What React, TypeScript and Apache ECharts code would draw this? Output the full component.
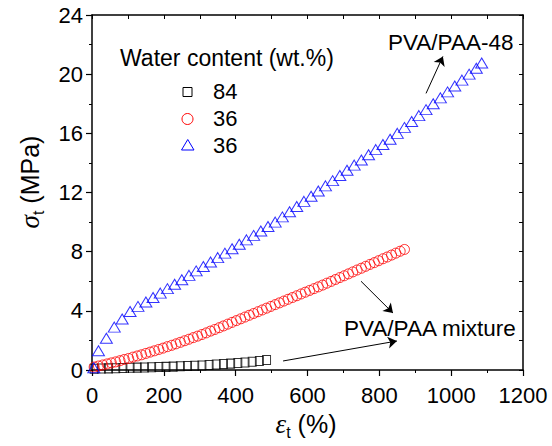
import React, { useEffect, useRef } from 'react';
import * as echarts from 'echarts';

// PVA/PAA mixture, water content 84 wt.%
const strain84 = [6, 26, 46, 66, 86, 106, 126, 146, 166, 186, 206, 226, 246, 266, 286, 306, 326, 346, 366, 386, 406, 426, 446, 466, 486];
const stress84 = [0.08, 0.10, 0.11, 0.12, 0.14, 0.15, 0.16, 0.17, 0.18, 0.20, 0.21, 0.23, 0.25, 0.27, 0.29, 0.31, 0.34, 0.37, 0.40, 0.43, 0.47, 0.51, 0.56, 0.61, 0.67];

// PVA/PAA mixture, water content 36 wt.%
const strain36a = [6, 18, 30, 42, 54, 66, 78, 90, 102, 114, 126, 138, 150, 162, 174, 186, 198, 210, 222, 234, 246, 258, 270, 282, 294, 306, 318, 330, 342, 354, 366, 378, 390, 402, 414, 426, 438, 450, 462, 474, 486, 498, 510, 522, 534, 546, 558, 570, 582, 594, 606, 618, 630, 642, 654, 666, 678, 690, 702, 714, 726, 738, 750, 762, 774, 786, 798, 810, 822, 834, 846, 858, 870];
const stress36a = [0.20, 0.27, 0.34, 0.41, 0.48, 0.55, 0.63, 0.71, 0.78, 0.87, 0.95, 1.03, 1.12, 1.21, 1.30, 1.39, 1.48, 1.58, 1.67, 1.77, 1.87, 1.98, 2.08, 2.19, 2.29, 2.40, 2.51, 2.63, 2.74, 2.86, 2.98, 3.10, 3.22, 3.34, 3.46, 3.58, 3.70, 3.82, 3.94, 4.06, 4.18, 4.30, 4.42, 4.54, 4.66, 4.78, 4.90, 5.02, 5.14, 5.26, 5.38, 5.50, 5.62, 5.74, 5.87, 5.99, 6.12, 6.25, 6.37, 6.50, 6.63, 6.76, 6.88, 7.01, 7.14, 7.26, 7.39, 7.52, 7.64, 7.77, 7.90, 8.03, 8.15];

// PVA/PAA-48, water content 36 wt.%
const strain36b = [5, 18, 40, 62, 84, 106, 128, 150, 170, 190, 210, 230, 250, 270, 290, 310, 330, 350, 370, 390, 410, 430, 450, 470, 490, 510, 530, 550, 570, 590, 610, 630, 650, 670, 690, 710, 730, 750, 770, 790, 810, 830, 850, 870, 890, 910, 930, 950, 970, 990, 1010, 1030, 1050, 1070, 1085];
const stress36b = [0.15, 1.3, 2.15, 2.9, 3.45, 3.95, 4.3, 4.6, 4.9, 5.2, 5.5, 5.8, 6.1, 6.4, 6.7, 7.0, 7.3, 7.6, 7.9, 8.2, 8.5, 8.8, 9.1, 9.4, 9.7, 10.0, 10.35, 10.7, 11.05, 11.4, 11.75, 12.1, 12.45, 12.8, 13.15, 13.5, 13.85, 14.2, 14.55, 14.9, 15.25, 15.6, 16.0, 16.4, 16.8, 17.2, 17.6, 18.0, 18.4, 18.8, 19.2, 19.6, 20.0, 20.4, 20.75];

const legendTitle = 'Water content (wt.%)';
const legendLabels = ['84', '36', '36'];
const annotationLabels = ['PVA/PAA-48', 'PVA/PAA mixture'];

// arrow annotations in data coordinates [start, end]
const arrowCoords = [
  [[930, 18.7], [977, 21.2]],
  [[749, 6.0], [838, 3.85]],
  [[532, 0.61], [849, 1.96]],
];

const FONT = "'Liberation Sans', Arial, Helvetica, sans-serif";
const SERIF = "'Liberation Serif', 'Times New Roman', serif";

export default function App() {
  const ref = useRef<HTMLDivElement>(null);

  useEffect(() => {
    const chart = echarts.init(ref.current as HTMLDivElement, null, { renderer: 'svg' });
    const zip = (xs: number[], ys: number[]) => xs.map((x, i) => [x, ys[i]]);
    const axisLine = { show: true, onZero: false, lineStyle: { color: '#000', width: 1.5 } };
    const textBase = (text: string, x: number, y: number, size: number, align = 'left') => ({
      type: 'text',
      x,
      y,
      silent: true,
      style: {
        text,
        fill: '#000',
        fontSize: size,
        fontFamily: FONT,
        align,
        textAlign: align,
        verticalAlign: 'middle',
        textVerticalAlign: 'middle',
      },
    });

    const option: any = {
      animation: false,
      backgroundColor: '#fff',
      grid: { left: 92, right: 29, top: 15, bottom: 76, containLabel: false },
      xAxis: [
        {
          type: 'value', min: 0, max: 1200, interval: 200, position: 'bottom',
          axisLine,
          axisTick: { show: true, inside: false, length: 6, lineStyle: { color: '#000', width: 1.2 } },
          minorTick: { show: true, splitNumber: 2, length: 3, lineStyle: { color: '#000', width: 1 } },
          axisLabel: { color: '#000', fontSize: 22, fontFamily: FONT, margin: 14, formatter: (v: number) => String(v) },
          splitLine: { show: false },
        },
        {
          type: 'value', min: 0, max: 1200, interval: 100, position: 'top',
          axisLine,
          axisTick: { show: true, inside: true, length: 4, lineStyle: { color: '#000', width: 1 } },
          axisLabel: { show: false },
          splitLine: { show: false },
        },
      ],
      yAxis: [
        {
          type: 'value', min: 0, max: 24, interval: 4, position: 'left',
          axisLine,
          axisTick: { show: true, inside: false, length: 6, lineStyle: { color: '#000', width: 1.2 } },
          minorTick: { show: true, splitNumber: 2, length: 3, lineStyle: { color: '#000', width: 1 } },
          axisLabel: { color: '#000', fontSize: 22, fontFamily: FONT, margin: 9, formatter: (v: number) => String(v) },
          splitLine: { show: false },
        },
        {
          type: 'value', min: 0, max: 24, interval: 2, position: 'right',
          axisLine,
          axisTick: { show: true, inside: true, length: 4, lineStyle: { color: '#000', width: 1 } },
          axisLabel: { show: false },
          splitLine: { show: false },
        },
      ],
      series: [
        {
          name: 'PVA/PAA mixture, 84 wt.%',
          type: 'scatter',
          symbol: 'rect',
          symbolSize: [8, 9],
          itemStyle: { color: 'rgba(0,0,0,0)', borderColor: '#000000', borderWidth: 1 },
          silent: true,
          data: zip(strain84, stress84),
        },
        {
          name: 'PVA/PAA mixture, 36 wt.%',
          type: 'scatter',
          symbol: 'circle',
          symbolSize: 10,
          itemStyle: { color: 'rgba(0,0,0,0)', borderColor: '#ff0000', borderWidth: 1 },
          silent: true,
          data: zip(strain36a, stress36a),
        },
        {
          name: 'PVA/PAA-48, 36 wt.%',
          type: 'scatter',
          symbol: 'triangle',
          symbolSize: [12, 10],
          itemStyle: { color: 'rgba(0,0,0,0)', borderColor: '#0000ff', borderWidth: 1 },
          silent: true,
          data: zip(strain36b, stress36b),
          markLine: {
            silent: true,
            symbol: ['none', 'arrow'],
            symbolSize: 9,
            label: { show: false },
            emphasis: { disabled: true },
            lineStyle: { color: '#000', width: 1, type: 'solid' },
            data: arrowCoords.map(([a, b]) => [{ coord: a }, { coord: b }]),
          },
        },
      ],
      graphic: [
        textBase(annotationLabels[0], 388, 42, 22.5),
        textBase(annotationLabels[1], 344, 328, 22.5),
        textBase(legendTitle, 120, 58, 23),
        textBase(legendLabels[0], 213, 91, 22),
        textBase(legendLabels[1], 213, 118.5, 22),
        textBase(legendLabels[2], 213, 145, 22),
        {
          type: 'rect', silent: true,
          shape: { x: 183, y: 87.5, width: 9, height: 9 },
          style: { fill: 'none', stroke: '#000', lineWidth: 1 },
        },
        {
          type: 'circle', silent: true,
          shape: { cx: 187.5, cy: 119, r: 5.5 },
          style: { fill: 'none', stroke: '#ff0000', lineWidth: 1 },
        },
        {
          type: 'polygon', silent: true,
          shape: { points: [[181.5, 150], [194, 150], [187.75, 139.5]] },
          style: { fill: 'none', stroke: '#0000ff', lineWidth: 1 },
        },
        {
          type: 'text', silent: true, x: 31, y: 182, rotation: Math.PI / 2,
          style: {
            text: '{g|σ}{s|t}{n| (MPa)}',
            fill: '#000',
            align: 'center', textAlign: 'center',
            verticalAlign: 'middle', textVerticalAlign: 'middle',
            rich: {
              g: { fontFamily: SERIF, fontStyle: 'italic', fontSize: 27, padding: [0, 0, 3, 0] },
              s: { fontFamily: FONT, fontSize: 16, verticalAlign: 'bottom' },
              n: { fontFamily: FONT, fontSize: 25, padding: [0, 0, 3, 0] },
            },
          },
        },
        {
          type: 'text', silent: true, x: 306, y: 425,
          style: {
            text: '{g|ε}{s|t}{n| (%)}',
            fill: '#000',
            align: 'center', textAlign: 'center',
            verticalAlign: 'middle', textVerticalAlign: 'middle',
            rich: {
              g: { fontFamily: SERIF, fontStyle: 'italic', fontSize: 27, padding: [0, 0, 3, 0] },
              s: { fontFamily: FONT, fontSize: 16, verticalAlign: 'bottom' },
              n: { fontFamily: FONT, fontSize: 25, padding: [0, 0, 3, 0] },
            },
          },
        },
      ],
    };

    chart.setOption(option);
    return () => {
      chart.dispose();
    };
  }, []);

  return (
    <div
      ref={ref}
      style={{ position: 'fixed', left: 0, top: 0, width: 552, height: 446, background: '#fff' }}
    />
  );
}
